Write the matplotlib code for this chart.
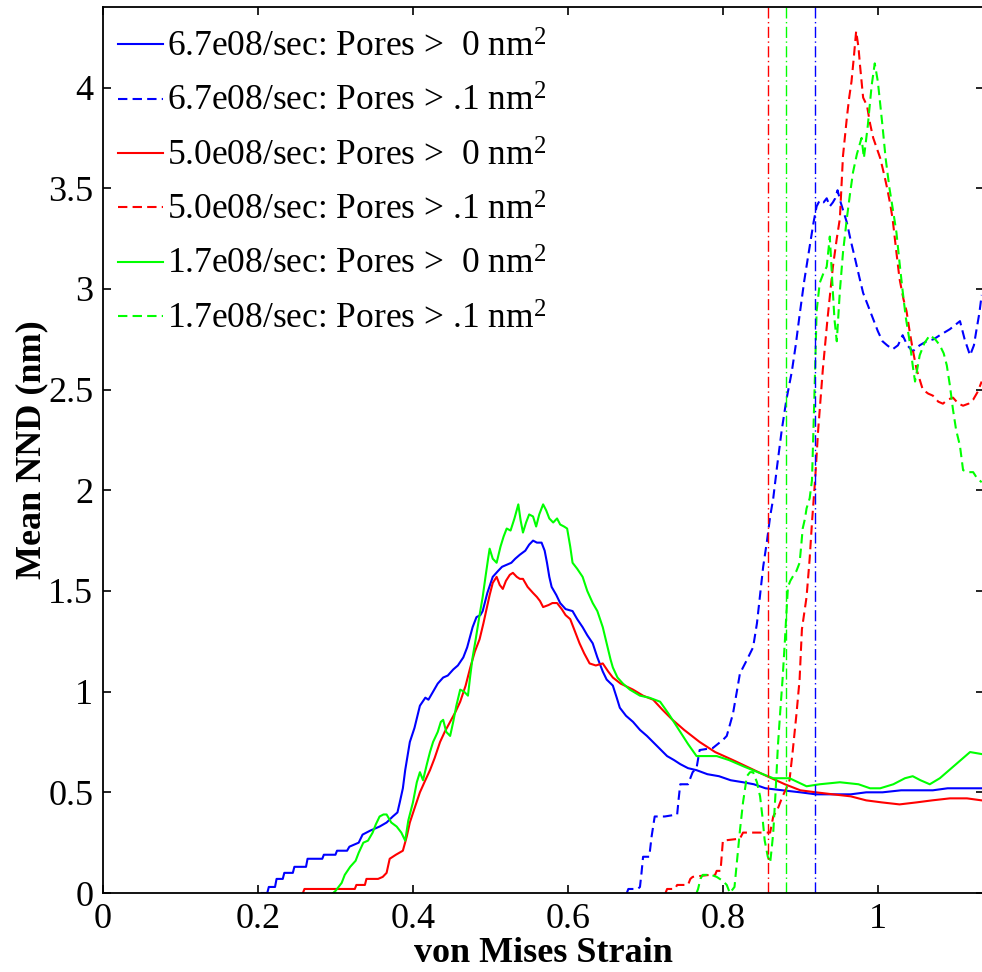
"""
Mean NND versus von Mises strain for three strain rates.
"""

import matplotlib
matplotlib.use("Agg")
import matplotlib.pyplot as plt
from matplotlib.ticker import FuncFormatter

# 6.7e08/sec, pores > 0 nm^2
fast_all_x = [0.205, 0.212, 0.214, 0.222, 0.224, 0.232, 0.234, 0.245, 0.247, 0.262, 0.264, 0.283,
              0.285, 0.300, 0.302, 0.315, 0.318, 0.330, 0.335, 0.345, 0.357, 0.366, 0.374, 0.380,
              0.383, 0.387, 0.390, 0.393, 0.396, 0.402, 0.409, 0.416, 0.420, 0.426, 0.432, 0.439,
              0.445, 0.452, 0.458, 0.465, 0.470, 0.477, 0.482, 0.487, 0.490, 0.496, 0.503, 0.510,
              0.515, 0.521, 0.527, 0.532, 0.538, 0.545, 0.550, 0.555, 0.560, 0.566, 0.570, 0.573,
              0.576, 0.579, 0.585, 0.590, 0.597, 0.606, 0.612, 0.619, 0.625, 0.632, 0.638, 0.645,
              0.650, 0.658, 0.663, 0.667, 0.675, 0.684, 0.693, 0.702, 0.715, 0.728, 0.737, 0.745,
              0.755, 0.766, 0.780, 0.795, 0.810, 0.826, 0.840, 0.855, 0.877, 0.900, 0.920, 0.942,
              0.965, 0.985, 1.006, 1.030, 1.050, 1.071, 1.090, 1.110, 1.134]
fast_all_y = [0.00, 0.00, 0.03, 0.03, 0.07, 0.07, 0.10, 0.10, 0.13, 0.13, 0.17, 0.17,
              0.19, 0.19, 0.21, 0.21, 0.23, 0.25, 0.29, 0.31, 0.33, 0.35, 0.38, 0.40,
              0.45, 0.52, 0.61, 0.68, 0.75, 0.82, 0.93, 0.97, 0.96, 1.00, 1.04, 1.07,
              1.08, 1.11, 1.13, 1.17, 1.22, 1.32, 1.37, 1.38, 1.40, 1.49, 1.57, 1.60,
              1.62, 1.63, 1.64, 1.66, 1.68, 1.70, 1.73, 1.75, 1.74, 1.74, 1.70, 1.64,
              1.57, 1.52, 1.48, 1.44, 1.41, 1.40, 1.36, 1.32, 1.28, 1.24, 1.17, 1.10,
              1.06, 1.03, 0.97, 0.92, 0.88, 0.85, 0.81, 0.78, 0.73, 0.68, 0.66, 0.64,
              0.62, 0.61, 0.59, 0.58, 0.56, 0.55, 0.54, 0.52, 0.51, 0.50, 0.49, 0.49,
              0.49, 0.50, 0.50, 0.51, 0.51, 0.51, 0.52, 0.52, 0.52]

# 6.7e08/sec, pores > .1 nm^2
fast_big_x = [0.676, 0.678, 0.690, 0.693, 0.695, 0.697, 0.705, 0.708, 0.712, 0.725, 0.741, 0.743,
              0.745, 0.755, 0.761, 0.766, 0.770, 0.787, 0.800, 0.805, 0.813, 0.818, 0.822, 0.830,
              0.839, 0.844, 0.848, 0.852, 0.857, 0.861, 0.865, 0.870, 0.876, 0.882, 0.889, 0.894,
              0.899, 0.905, 0.912, 0.917, 0.921, 0.925, 0.930, 0.934, 0.938, 0.942, 0.945, 0.948,
              0.952, 0.956, 0.960, 0.965, 0.970, 0.976, 0.981, 0.988, 0.994, 1.000, 1.006, 1.012,
              1.019, 1.026, 1.032, 1.038, 1.045, 1.054, 1.063, 1.072, 1.080, 1.093, 1.106, 1.112,
              1.119, 1.124, 1.127, 1.131, 1.134]
fast_big_y = [0.00, 0.02, 0.02, 0.03, 0.10, 0.18, 0.18, 0.28, 0.38, 0.38, 0.39, 0.47,
              0.54, 0.54, 0.60, 0.62, 0.71, 0.72, 0.76, 0.78, 0.89, 1.00, 1.09, 1.15,
              1.22, 1.34, 1.48, 1.62, 1.75, 1.87, 1.96, 2.12, 2.30, 2.45, 2.59, 2.72,
              2.87, 3.04, 3.21, 3.33, 3.41, 3.44, 3.43, 3.45, 3.41, 3.43, 3.45, 3.49,
              3.43, 3.38, 3.33, 3.24, 3.16, 3.06, 2.98, 2.91, 2.85, 2.79, 2.74, 2.72,
              2.70, 2.72, 2.77, 2.72, 2.69, 2.72, 2.74, 2.75, 2.77, 2.80, 2.84, 2.75,
              2.67, 2.72, 2.79, 2.88, 2.97]

# 5.0e08/sec, pores > 0 nm^2
mid_all_x = [0.258, 0.260, 0.325, 0.327, 0.338, 0.340, 0.355, 0.361, 0.366, 0.370, 0.378, 0.387,
             0.392, 0.396, 0.402, 0.409, 0.416, 0.422, 0.428, 0.435, 0.441, 0.448, 0.455, 0.461,
             0.468, 0.474, 0.480, 0.486, 0.491, 0.495, 0.499, 0.503, 0.508, 0.512, 0.516, 0.520,
             0.525, 0.529, 0.534, 0.538, 0.542, 0.548, 0.555, 0.560, 0.564, 0.568, 0.575, 0.580,
             0.586, 0.592, 0.597, 0.603, 0.609, 0.615, 0.621, 0.628, 0.636, 0.645, 0.652, 0.658,
             0.668, 0.684, 0.697, 0.710, 0.722, 0.735, 0.750, 0.770, 0.790, 0.813, 0.835, 0.857,
             0.880, 0.900, 0.920, 0.942, 0.965, 0.985, 1.005, 1.028, 1.050, 1.070, 1.093, 1.115,
             1.134]
mid_all_y = [0.00, 0.02, 0.02, 0.04, 0.04, 0.07, 0.07, 0.08, 0.10, 0.17, 0.19, 0.21,
             0.28, 0.35, 0.42, 0.50, 0.56, 0.61, 0.67, 0.75, 0.80, 0.85, 0.90, 0.95,
             1.03, 1.12, 1.20, 1.26, 1.34, 1.41, 1.48, 1.54, 1.57, 1.53, 1.51, 1.55,
             1.58, 1.59, 1.57, 1.56, 1.56, 1.52, 1.49, 1.47, 1.45, 1.42, 1.43, 1.44,
             1.44, 1.41, 1.38, 1.36, 1.30, 1.24, 1.19, 1.14, 1.13, 1.14, 1.10, 1.07,
             1.04, 1.01, 0.98, 0.96, 0.91, 0.86, 0.81, 0.75, 0.70, 0.66, 0.62, 0.58,
             0.54, 0.51, 0.50, 0.49, 0.48, 0.46, 0.45, 0.44, 0.45, 0.46, 0.47, 0.47,
             0.46]

# 5.0e08/sec, pores > .1 nm^2
mid_big_x = [0.726, 0.728, 0.738, 0.741, 0.755, 0.758, 0.761, 0.783, 0.790, 0.792, 0.797, 0.800,
             0.822, 0.826, 0.844, 0.861, 0.863, 0.865, 0.871, 0.877, 0.882, 0.886, 0.890, 0.895,
             0.899, 0.902, 0.905, 0.908, 0.912, 0.915, 0.919, 0.923, 0.929, 0.935, 0.942, 0.947,
             0.951, 0.955, 0.960, 0.963, 0.966, 0.969, 0.972, 0.975, 0.977, 0.981, 0.986, 0.990,
             0.994, 1.003, 1.008, 1.012, 1.016, 1.019, 1.024, 1.028, 1.033, 1.037, 1.041, 1.045,
             1.050, 1.058, 1.065, 1.071, 1.078, 1.084, 1.090, 1.097, 1.104, 1.110, 1.117, 1.123,
             1.129, 1.134]
mid_big_y = [0.00, 0.02, 0.02, 0.04, 0.04, 0.07, 0.08, 0.09, 0.09, 0.11, 0.11, 0.26,
             0.27, 0.30, 0.30, 0.30, 0.34, 0.38, 0.42, 0.48, 0.52, 0.56, 0.70, 0.89,
             1.06, 1.31, 1.39, 1.47, 1.66, 1.84, 2.05, 2.30, 2.60, 2.85, 3.11, 3.25,
             3.35, 3.66, 3.85, 3.95, 4.03, 4.15, 4.28, 4.20, 4.11, 3.95, 3.91, 3.82,
             3.75, 3.65, 3.57, 3.50, 3.42, 3.35, 3.18, 3.05, 2.95, 2.89, 2.79, 2.70,
             2.60, 2.50, 2.48, 2.47, 2.44, 2.43, 2.45, 2.46, 2.43, 2.42, 2.43, 2.45,
             2.49, 2.54]

# 1.7e08/sec, pores > 0 nm^2
slow_all_x = [0.297, 0.300, 0.308, 0.312, 0.319, 0.326, 0.330, 0.336, 0.342, 0.348, 0.352, 0.357,
              0.362, 0.366, 0.372, 0.379, 0.385, 0.390, 0.394, 0.400, 0.405, 0.409, 0.413, 0.418,
              0.422, 0.426, 0.432, 0.436, 0.439, 0.443, 0.448, 0.452, 0.456, 0.461, 0.466, 0.471,
              0.474, 0.477, 0.481, 0.486, 0.490, 0.494, 0.497, 0.499, 0.503, 0.508, 0.513, 0.517,
              0.521, 0.526, 0.531, 0.536, 0.539, 0.542, 0.546, 0.550, 0.555, 0.559, 0.563, 0.568,
              0.572, 0.576, 0.581, 0.586, 0.590, 0.595, 0.599, 0.603, 0.606, 0.612, 0.619, 0.625,
              0.632, 0.638, 0.645, 0.650, 0.655, 0.658, 0.664, 0.671, 0.680, 0.693, 0.705, 0.719,
              0.730, 0.745, 0.755, 0.766, 0.780, 0.792, 0.808, 0.826, 0.845, 0.865, 0.886, 0.897,
              0.908, 0.925, 0.951, 0.975, 0.990, 1.003, 1.020, 1.035, 1.045, 1.055, 1.067, 1.080,
              1.095, 1.110, 1.119, 1.134]
slow_all_y = [0.00, 0.01, 0.05, 0.09, 0.13, 0.16, 0.20, 0.25, 0.26, 0.30, 0.34, 0.38,
              0.39, 0.39, 0.35, 0.33, 0.30, 0.26, 0.36, 0.45, 0.55, 0.60, 0.56, 0.64,
              0.70, 0.75, 0.80, 0.85, 0.86, 0.80, 0.78, 0.85, 0.93, 1.01, 1.00, 0.98,
              1.08, 1.17, 1.26, 1.38, 1.47, 1.58, 1.66, 1.71, 1.66, 1.64, 1.72, 1.77,
              1.81, 1.80, 1.86, 1.93, 1.85, 1.79, 1.84, 1.88, 1.87, 1.82, 1.88, 1.93,
              1.90, 1.86, 1.84, 1.86, 1.83, 1.82, 1.81, 1.72, 1.64, 1.61, 1.57, 1.50,
              1.44, 1.40, 1.32, 1.24, 1.16, 1.12, 1.07, 1.04, 1.01, 0.98, 0.97, 0.95,
              0.89, 0.80, 0.74, 0.68, 0.68, 0.68, 0.66, 0.63, 0.60, 0.57, 0.57, 0.55,
              0.53, 0.54, 0.55, 0.54, 0.52, 0.52, 0.54, 0.57, 0.58, 0.56, 0.54, 0.57,
              0.62, 0.67, 0.70, 0.69]

# 1.7e08/sec, pores > .1 nm^2
slow_big_x = [0.766, 0.768, 0.771, 0.774, 0.785, 0.792, 0.800, 0.805, 0.809, 0.815, 0.818, 0.822,
              0.826, 0.831, 0.835, 0.839, 0.844, 0.848, 0.851, 0.854, 0.858, 0.861, 0.863, 0.865,
              0.868, 0.871, 0.874, 0.877, 0.880, 0.882, 0.884, 0.887, 0.890, 0.895, 0.899, 0.901,
              0.903, 0.906, 0.908, 0.912, 0.915, 0.918, 0.921, 0.925, 0.930, 0.934, 0.938, 0.941,
              0.944, 0.947, 0.951, 0.955, 0.960, 0.964, 0.968, 0.973, 0.979, 0.982, 0.987, 0.992,
              0.996, 1.000, 1.003, 1.006, 1.010, 1.015, 1.020, 1.024, 1.028, 1.032, 1.036, 1.041,
              1.045, 1.048, 1.054, 1.060, 1.067, 1.074, 1.080, 1.085, 1.089, 1.093, 1.097, 1.101,
              1.106, 1.110, 1.116, 1.123, 1.128, 1.134]
slow_big_y = [0.00, 0.02, 0.07, 0.09, 0.09, 0.08, 0.06, 0.04, 0.00, 0.03, 0.15, 0.31,
              0.45, 0.58, 0.60, 0.60, 0.55, 0.48, 0.38, 0.26, 0.18, 0.15, 0.22, 0.30,
              0.50, 0.73, 0.90, 1.06, 1.25, 1.39, 1.52, 1.55, 1.57, 1.60, 1.64, 1.72,
              1.81, 1.86, 1.91, 1.96, 2.05, 2.45, 2.89, 3.03, 3.08, 3.11, 3.26, 3.05,
              2.85, 2.74, 2.99, 3.18, 3.35, 3.47, 3.58, 3.67, 3.75, 3.65, 3.81, 4.01,
              4.12, 4.03, 3.92, 3.81, 3.65, 3.50, 3.38, 3.28, 3.13, 2.99, 2.86, 2.74,
              2.62, 2.54, 2.67, 2.73, 2.77, 2.75, 2.72, 2.68, 2.62, 2.52, 2.40, 2.30,
              2.22, 2.10, 2.09, 2.09, 2.06, 2.04]

# strain at which each rate's vertical marker sits (6.7e08, 5.0e08, 1.7e08)
marker_strain = [0.919, 0.858, 0.882]

series_labels = [
    "6.7e08/sec: Pores >  0 nm$^2$",
    "6.7e08/sec: Pores > .1 nm$^2$",
    "5.0e08/sec: Pores >  0 nm$^2$",
    "5.0e08/sec: Pores > .1 nm$^2$",
    "1.7e08/sec: Pores >  0 nm$^2$",
    "1.7e08/sec: Pores > .1 nm$^2$",
]
rate_colors = ["#0000ff", "#ff0000", "#00ff00"]


def draw_chart():
    plt.rcParams["font.family"] = ["Liberation Serif", "DejaVu Serif"]
    plt.rcParams["mathtext.fontset"] = "custom"
    plt.rcParams["mathtext.rm"] = "Liberation Serif"
    plt.rcParams["mathtext.it"] = "Liberation Serif:italic"
    plt.rcParams["mathtext.bf"] = "Liberation Serif:bold"

    fig = plt.figure(figsize=(9.82, 9.72), dpi=100)
    ax = fig.add_axes([103 / 982, 79 / 972, 881 / 982, 886 / 972])

    curves = [
        (fast_all_x, fast_all_y, fast_big_x, fast_big_y),
        (mid_all_x, mid_all_y, mid_big_x, mid_big_y),
        (slow_all_x, slow_all_y, slow_big_x, slow_big_y),
    ]
    dash = (0, (4.5, 2.5))
    for i, (xa, ya, xb, yb) in enumerate(curves):
        color = rate_colors[i]
        ax.plot(xa, ya, color=color, lw=1.5, label=series_labels[2 * i])
        ax.plot(xb, yb, color=color, lw=1.5, linestyle=dash, label=series_labels[2 * i + 1])

    for xs, color in zip(marker_strain, rate_colors):
        ax.axvline(xs, color=color, lw=1.0, linestyle=(0, (8, 2.5, 1, 2.5)))

    ax.set_xlim(0, 1.137)
    ax.set_ylim(0, 4.4)
    ax.set_xticks([0, 0.2, 0.4, 0.6, 0.8, 1.0])
    ax.set_yticks([0, 0.5, 1, 1.5, 2, 2.5, 3, 3.5, 4])
    fmt = FuncFormatter(lambda v, p: "%g" % v)
    ax.xaxis.set_major_formatter(fmt)
    ax.yaxis.set_major_formatter(fmt)
    ax.tick_params(direction="in", length=6, width=1.2, labelsize=26,
                   top=True, right=True, pad=7)
    for sp in ax.spines.values():
        sp.set_linewidth(1.3)

    ax.set_xlabel("von Mises Strain", fontsize=26, fontweight="bold", labelpad=1)
    ax.set_ylabel("Mean NND (nm)", fontsize=26, fontweight="bold", labelpad=0)

    ax.legend(loc="upper left", bbox_to_anchor=(0.0, 0.989), frameon=False,
              fontsize=25.5, handlelength=1.27, handletextpad=0.11,
              labelspacing=0.6, borderaxespad=0.2, borderpad=0.22)
    return fig


if __name__ == "__main__":
    fig = draw_chart()
    fig.savefig("out.png", dpi=100)
